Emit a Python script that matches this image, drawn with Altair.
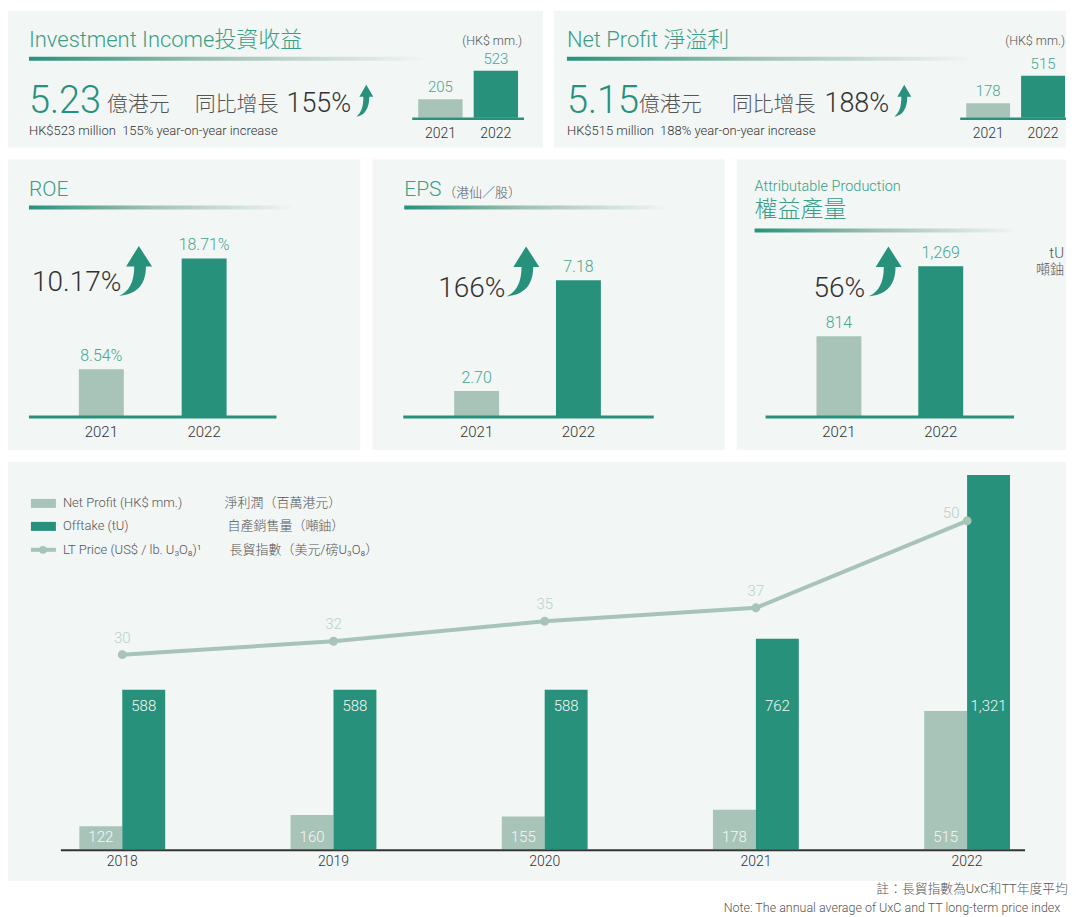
import altair as alt
import pandas as pd

# ---------------- data ----------------
mini_years = ["2021", "2022"]
income_values = [205, 523]
profit_values = [178, 515]
roe_values = [8.54, 18.71]
eps_values = [2.70, 7.18]
production_values = [814, 1269]

years = ["2018", "2019", "2020", "2021", "2022"]
net_profit = [122, 160, 155, 178, 515]
offtake = [588, 588, 588, 762, 1321]
lt_price = [30, 32, 35, 37, 50]
series_names = ["Net Profit", "Offtake"]

# ---------------- style ----------------
TEAL = "#27917b"
LIGHT = "#a8c4b9"
BG = "#f2f6f5"
TITLE = "#3a9e86"
LABEL = "#4ba58e"
DARK = "#333333"
GRAY = "#555555"
FONT = "Roboto, 'Noto Sans CJK TC', sans-serif"

ARROW_BIG = ("M0.12,-1 L0.64,-0.19 L0.4,-0.19 C0.4,0.65 -0.1,0.92 -0.65,0.96 "
             "C-0.26,0.8 -0.06,0.41 -0.06,-0.19 L-0.38,-0.19 Z")
ARROW_SMALL = ("M0.09,-1 L0.53,-0.25 L0.28,-0.25 C0.28,0.5 -0.03,0.94 -0.53,1 "
               "C-0.22,0.75 -0.09,0.375 -0.09,-0.25 L-0.34,-0.25 Z")

one = pd.DataFrame({"k": [0]})


def txt(text, x, y, size, color=GRAY, align="left", weight=300, baseline="middle", clip=False):
    return alt.Chart(one).mark_text(
        text=text, align=align, baseline=baseline, fontSize=size, color=color,
        font=FONT, fontWeight=weight, clip=clip
    ).encode(x=alt.value(x), y=alt.value(y))


def underline(x1, x2, y, h=4):
    grad = alt.LinearGradient(
        gradient="linear",
        stops=[alt.GradientStop(color=TEAL, offset=0),
               alt.GradientStop(color="#9fc0b3", offset=0.45),
               alt.GradientStop(color=BG, offset=1)],
        x1=0, x2=1, y1=0, y2=0)
    return alt.Chart(one).mark_rect(fill=grad).encode(
        x=alt.value(x1), x2=alt.value(x2), y=alt.value(y), y2=alt.value(y + h))


def arrow(x, y, side, path):
    return alt.Chart(one).mark_point(
        shape=path, filled=True, size=side * side, color=TEAL, opacity=1, strokeWidth=0
    ).encode(x=alt.value(x), y=alt.value(y))


def hrule(x1, x2, y, color, w):
    return alt.Chart(one).mark_rule(color=color, strokeWidth=w).encode(
        x=alt.value(x1), x2=alt.value(x2), y=alt.value(y))


def mini(values, xr, pi, ydom, yr, fmt, suffix, lab_size, year_y, dy, year_size):
    df = pd.DataFrame({"year": mini_years, "value": values})
    X = alt.X("year:N", sort=mini_years,
              scale=alt.Scale(range=xr, paddingInner=pi, paddingOuter=0), axis=None)
    Y = alt.Y("value:Q", scale=alt.Scale(domain=ydom, range=yr, zero=False, nice=False), axis=None)
    col = alt.condition(alt.datum.year == mini_years[-1], alt.value(TEAL), alt.value(LIGHT))
    bars = alt.Chart(df).mark_bar().encode(x=X, y=Y, y2=alt.datum(ydom[0]), color=col)
    labels = alt.Chart(df).transform_calculate(
        label=f"format(datum.value, '{fmt}') + '{suffix}'"
    ).mark_text(dy=dy, fontSize=lab_size, color=LABEL, font=FONT, fontWeight=300,
                baseline="middle").encode(x=X, y=Y, text="label:N")
    yl = alt.Chart(df).mark_text(fontSize=year_size, color=DARK, font=FONT, fontWeight=300,
                                 baseline="middle").encode(
        x=X, y=alt.value(year_y), text="year:N")
    return [bars, labels, yl]


def panel(layers, w, h, fill=BG):
    return alt.layer(*layers).properties(
        width=w, height=h, view=alt.ViewBackground(fill=fill, stroke="transparent"))


# ---------------- row 1 ----------------
pA = panel([
    txt("Investment Income投資收益", 21, 29, 22, TITLE),
    txt("(HK$ mm.)", 515, 30, 12.5, GRAY, align="right"),
    underline(21, 420, 46),
    txt("5.23", 21, 91, 38, TEAL),
    txt("億港元", 99, 94, 21, GRAY),
    txt("同比增長", 187, 94, 21, GRAY),
    txt("155%", 279, 93, 27, DARK),
    arrow(357.5, 90, 32, ARROW_SMALL),
    txt("HK$523 million\u00a0 155% year-on-year increase", 21, 120, 13, DARK),
    *mini(income_values, [411, 511], 0.2, [0, 523], [107, 60], ",d", "", 15, 123, -12, 14),
    hrule(405, 517, 108, TEAL, 2.5),
], 536, 137)

pB = panel([
    txt("Net Profit 淨溢利", 13, 29, 22, TITLE),
    txt("(HK$ mm.)", 512, 30, 12.5, GRAY, align="right"),
    underline(13, 420, 46),
    txt("5.15", 13, 91, 38, TEAL),
    txt("億港元", 85, 94, 21, GRAY),
    txt("同比增長", 178, 94, 21, GRAY),
    txt("188%", 271, 93, 27, DARK),
    arrow(349.5, 90, 32, ARROW_SMALL),
    txt("HK$515 million\u00a0 188% year-on-year increase", 13, 120, 13, DARK),
    *mini(profit_values, [413, 512], 0.2, [0, 515], [107, 65], ",d", "", 15, 123, -12, 14),
    hrule(407, 513, 108, TEAL, 2.5),
], 513, 137)

# ---------------- row 2 ----------------
pROE = panel([
    txt("ROE", 21, 30, 21, TITLE),
    underline(21, 287, 46),
    txt("10.17%", 24, 124, 28, DARK),
    arrow(128, 112, 51, ARROW_BIG),
    *mini(roe_values, [71, 219], 0.563, [4.23, 18.71], [257, 99], ".2f", "%", 16, 273, -13, 15),
    hrule(21, 269, 258, TEAL, 3),
], 353, 291)

pEPS = panel([
    txt("EPS", 32, 30, 21, TITLE),
    txt("（港仙／股）", 71, 33, 13, GRAY),
    underline(32, 297, 46),
    txt("166%", 66, 130, 28, DARK),
    arrow(151, 112.5, 51, ARROW_BIG),
    *mini(eps_values, [82, 229], 0.559, [1.69, 7.18], [257, 121], ".2f", "", 16, 273, -13, 15),
    hrule(31, 282, 258, TEAL, 3),
], 353, 291)

pPROD = panel([
    txt("Attributable Production", 18, 27, 14.5, TITLE),
    txt("權益產量", 18, 51, 23, TITLE),
    underline(18, 282, 69),
    txt("tU", 328, 94, 15, GRAY, align="right"),
    txt("噸鈾", 328, 111, 14, GRAY, align="right"),
    txt("56%", 77, 130, 28, DARK),
    arrow(149, 112.5, 51, ARROW_BIG),
    *mini(production_values, [80, 227], 0.559, [294, 1269], [257, 107], ",d", "", 16, 273, -13, 15),
    hrule(29, 278, 258, TEAL, 3),
], 330, 291)

# ---------------- row 3: combo chart ----------------
bar_df = pd.DataFrame({
    "year": years * 2,
    "series": [series_names[0]] * len(years) + [series_names[1]] * len(years),
    "value": net_profit + offtake,
})
price_df = pd.DataFrame({"year": years, "price": lt_price})

BX = alt.X("year:N", sort=years,
           scale=alt.Scale(range=[8.7, 1066.7], paddingInner=0, paddingOuter=0), axis=None)
BXO = alt.XOffset("series:N", sort=series_names,
                  scale=alt.Scale(domain=series_names, range=[62.8, 148.8], paddingInner=0, paddingOuter=0))
BY = alt.Y("value:Q", scale=alt.Scale(domain=[43, 1321], range=[388, 13], zero=False, nice=False), axis=None)
PY = alt.Y("price:Q", scale=alt.Scale(domain=[0, 50], range=[394, 59], zero=False, nice=False), axis=None)

bars = alt.Chart(bar_df).mark_bar().encode(
    x=BX, xOffset=BXO, y=BY, y2=alt.datum(43),
    color=alt.Color("series:N", scale=alt.Scale(domain=series_names, range=[LIGHT, TEAL]), legend=None))
np_labels = alt.Chart(bar_df).transform_filter(alt.datum.series == series_names[0]).mark_text(
    fontSize=15, color="#f4f8f6", font=FONT, fontWeight=300, baseline="middle").encode(
    x=BX, xOffset=BXO, y=alt.value(376), text=alt.Text("value:Q", format=",d"))
ot_labels = alt.Chart(bar_df).transform_filter(alt.datum.series == series_names[1]).mark_text(
    fontSize=15, color="#f4f8f6", font=FONT, fontWeight=300, baseline="middle").encode(
    x=BX, xOffset=BXO, y=alt.value(244), text=alt.Text("value:Q", format=",d"))
year_labels = alt.Chart(price_df).mark_text(
    fontSize=14, color=DARK, font=FONT, fontWeight=300, baseline="middle").encode(
    x=BX, y=alt.value(401), text="year:N")
line = alt.Chart(price_df).mark_line(color=LIGHT, strokeWidth=4).encode(x=BX, y=PY)
pts = alt.Chart(price_df).mark_point(filled=True, size=80, color=LIGHT, opacity=1).encode(x=BX, y=PY)
p_labels = alt.Chart(price_df).transform_filter(alt.datum.year != years[-1]).mark_text(
    dy=-17, fontSize=15, color="#b9d1c7", font=FONT, fontWeight=300, baseline="middle").encode(
    x=BX, y=PY, text="price:Q")
p_label_last = alt.Chart(price_df).transform_filter(alt.datum.year == years[-1]).mark_text(
    dy=-8, dx=-16, fontSize=15, color="#b9d1c7", font=FONT, fontWeight=300, baseline="middle").encode(
    x=BX, y=PY, text="price:Q")

legend_layers = [
    alt.Chart(one).mark_rect(color=LIGHT).encode(
        x=alt.value(23), x2=alt.value(48), y=alt.value(37), y2=alt.value(46)),
    alt.Chart(one).mark_rect(color=TEAL).encode(
        x=alt.value(23), x2=alt.value(48), y=alt.value(60), y2=alt.value(69)),
    hrule(23, 48, 88, LIGHT, 4),
    alt.Chart(one).mark_point(filled=True, size=60, color=LIGHT, opacity=1).encode(
        x=alt.value(35), y=alt.value(88)),
    txt("Net Profit (HK$ mm.)", 55, 41, 13, GRAY),
    txt("Offtake (tU)", 55, 64, 13, GRAY),
    txt("LT Price (US$ / lb. U₃O₈)¹", 55, 88, 13, GRAY),
    txt("淨利潤（百萬港元）", 217, 41, 13, GRAY),
    txt("自產銷售量（噸鈾）", 220, 64, 13, GRAY),
    txt("長貿指數（美元/磅U₃O₈）", 222, 88, 13, GRAY),
]

pBIG = alt.layer(
    bars, hrule(53, 1019, 389, "#333333", 2), np_labels, ot_labels, year_labels,
    line, pts, p_labels, p_label_last, *legend_layers
).resolve_scale(y="independent").properties(
    width=1060, height=420, view=alt.ViewBackground(fill=BG, stroke="transparent"))

# ---------------- notes ----------------
notes = panel([
    txt("註：長貿指數為UxC和TT年度平均", 870, 8, 12.8, GRAY),
    txt("Note: The annual average of UxC and TT long-term price index", 717, 27, 12.5, GRAY),
], 1060, 35, fill="white")

row1 = alt.hconcat(pA, pB, spacing=11)
row2 = alt.hconcat(pROE, pEPS, pPROD, spacing=12)
main = alt.vconcat(row1, row2, pBIG, spacing=12)

chart = alt.vconcat(main, notes, spacing=0).properties(
    padding={"left": 0, "top": 2, "right": 0, "bottom": 0}
).configure(font=FONT, background="white").configure_view(strokeWidth=0)

chart.save("out.html", embed_options={"renderer": "svg", "actions": False})
